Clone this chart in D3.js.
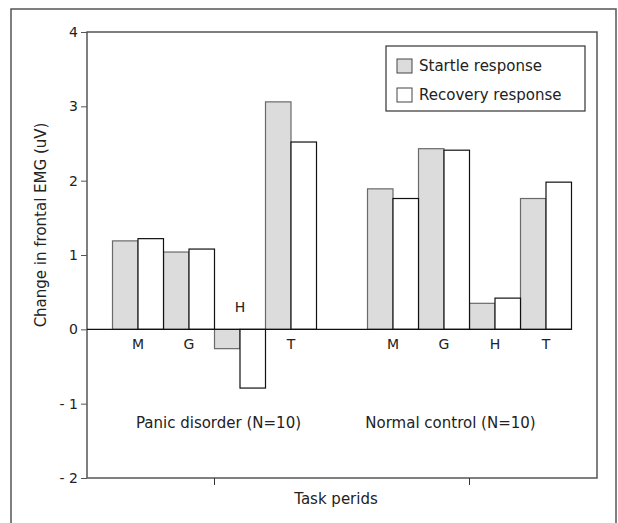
<!DOCTYPE html>
<html>
<head>
<meta charset="utf-8">
<script src="https://cdn.jsdelivr.net/npm/d3@7"></script>
<style>
  body { margin: 0; background: #fff; }
  text { font-family: "DejaVu Sans", sans-serif; font-size: 14px; fill: #222; }
  .wide { font-size: 15px; }
</style>
</head>
<body>
<svg id="chart" width="618" height="523"></svg>
<script>
const width = 618, height = 523;

//chart values
const groups = ["Panic disorder (N=10)", "Normal control (N=10)"];
const tasks = ["M", "G", "H", "T"];
const series = ["Startle response", "Recovery response"];
const panicStartle = [1.19, 1.04, -0.26, 3.06];
const panicRecovery = [1.22, 1.08, -0.79, 2.52];
const normalStartle = [1.89, 2.43, 0.35, 1.76];
const normalRecovery = [1.76, 2.41, 0.42, 1.98];
const yTicks = [-2, -1, 0, 1, 2, 3, 4];
const yTitle = "Change in frontal EMG (uV)";
const xTitle = "Task perids";

const plot = { left: 87, right: 597, top: 32, bottom: 478 };
const fills = ["#dcdcdc", "#ffffff"];
const strokes = ["#6a6a6a", "#111111"];

//build rows for each group/task/series
const values = [[panicStartle, panicRecovery], [normalStartle, normalRecovery]];
const rows = [];
groups.forEach((g, gi) => {
  tasks.forEach((t, ti) => {
    series.forEach((s, si) => {
      rows.push({ group: g, task: t, series: s, si: si, value: values[gi][si][ti] });
    });
  });
});

const svg = d3.select("#chart");

//outer frame of the figure
svg.append("rect").attr("x", 11).attr("y", 9).attr("width", 605).attr("height", 540)
  .attr("fill", "none").attr("stroke", "#555").attr("stroke-width", 1.5);

//scales
const y = d3.scaleLinear().domain([-2, 4]).range([plot.bottom, plot.top]);
const xGroup = d3.scaleBand().domain(groups).range([plot.left, plot.right]);
const xTask = d3.scaleBand().domain(tasks).range([0, xGroup.bandwidth()]).paddingInner(0).paddingOuter(0.5);
const xSeries = d3.scaleBand().domain(series).range([0, xTask.bandwidth()]);

//plot frame
svg.append("rect").attr("x", plot.left).attr("y", plot.top)
  .attr("width", plot.right - plot.left).attr("height", plot.bottom - plot.top)
  .attr("fill", "none").attr("stroke", "#555").attr("stroke-width", 1.5);

//axes
const yAxis = svg.append("g").attr("transform", `translate(${plot.left},0)`)
  .call(d3.axisLeft(y).tickValues(yTicks).tickSize(6).tickPadding(3)
    .tickFormat(d => d < 0 ? "- " + Math.abs(d) : d));
yAxis.select(".domain").remove();
yAxis.selectAll("line").attr("stroke", "#555");
yAxis.selectAll("text").attr("font-size", 15).attr("font-family", null).attr("fill", "#222");

const xAxis = svg.append("g").attr("transform", `translate(0,${plot.bottom})`)
  .call(d3.axisBottom(xGroup).tickSize(7).tickFormat(""));
xAxis.select(".domain").remove();
xAxis.selectAll("line").attr("stroke", "#333");

//bars, startle first so the recovery outline sits on top
const barX = d => xGroup(d.group) + xTask(d.task) + xSeries(d.series);
svg.append("g").selectAll("rect")
  .data(rows.slice().sort((a, b) => a.si - b.si))
  .join("rect")
  .attr("x", barX)
  .attr("y", d => y(Math.max(0, d.value)))
  .attr("width", xSeries.bandwidth())
  .attr("height", d => Math.abs(y(d.value) - y(0)))
  .attr("fill", d => fills[d.si])
  .attr("stroke", d => strokes[d.si])
  .attr("stroke-width", 1.2);

//zero line
const lastX = xGroup(groups[groups.length - 1]) + xTask(tasks[tasks.length - 1]) + xTask.bandwidth();
svg.append("line").attr("x1", plot.left).attr("x2", lastX)
  .attr("y1", y(0)).attr("y2", y(0)).attr("stroke", "#111").attr("stroke-width", 1.2);

//task letters, above the zero line when the pair goes negative
groups.forEach((g, gi) => {
  tasks.forEach((t, ti) => {
    const neg = Math.min(values[gi][0][ti], values[gi][1][ti]) < 0;
    svg.append("text")
      .attr("x", xGroup(g) + xTask(t) + xTask.bandwidth() / 2)
      .attr("y", neg ? y(0) - 17 : y(0) + 20)
      .attr("text-anchor", "middle")
      .text(t);
  });
});

//group labels
const groupShift = [4, -19];
svg.append("g").selectAll("text").data(groups).join("text")
  .attr("class", "wide")
  .attr("x", (d, i) => xGroup(d) + xGroup.bandwidth() / 2 + groupShift[i])
  .attr("y", 428)
  .attr("text-anchor", "middle")
  .text(d => d);

//axis titles
svg.append("text").attr("class", "wide").attr("x", (plot.left + plot.right) / 2 - 6).attr("y", 504)
  .attr("text-anchor", "middle").text(xTitle);
svg.append("text").attr("class", "wide")
  .attr("transform", `translate(46,${(plot.top + plot.bottom) / 2 - 30}) rotate(-90)`)
  .attr("text-anchor", "middle").text(yTitle);

//legend
const legend = svg.append("g").attr("transform", "translate(386,46)");
legend.append("rect").attr("width", 199).attr("height", 65)
  .attr("fill", "#fff").attr("stroke", "#333").attr("stroke-width", 1.2);
const item = legend.selectAll(".item").data(series).join("g")
  .attr("class", "item").attr("transform", (d, i) => `translate(11,${13 + i * 29})`);
item.append("rect").attr("width", 15).attr("height", 14)
  .attr("fill", (d, i) => fills[i]).attr("stroke", "#444");
item.append("text").attr("class", "wide").attr("x", 22).attr("y", 12).text(d => d);
</script>
</body>
</html>
